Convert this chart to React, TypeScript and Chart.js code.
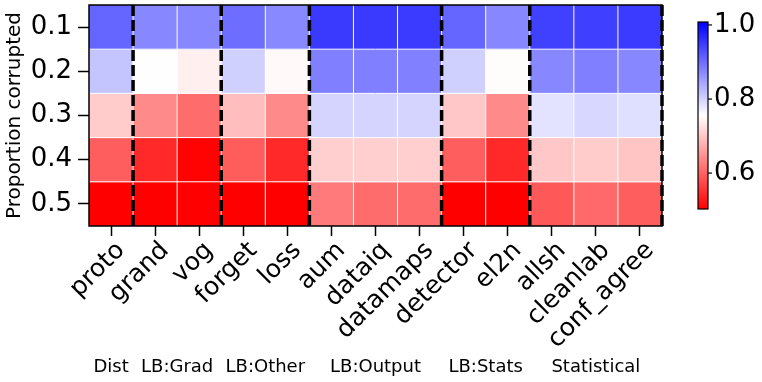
import { useEffect, useRef } from 'react';
import { Chart, registerables } from 'chart.js';

Chart.register(...registerables);

const methods = ['proto', 'grand', 'vog', 'forget', 'loss', 'aum', 'dataiq', 'datamaps', 'detector', 'el2n', 'allsh', 'cleanlab', 'conf_agree'];
const rowLabels = ['0.1', '0.2', '0.3', '0.4', '0.5'];

const row01 = [0.908, 0.874, 0.874, 0.900, 0.872, 0.951, 0.951, 0.950, 0.908, 0.874, 0.945, 0.946, 0.950];
const row02 = [0.814, 0.756, 0.740, 0.802, 0.750, 0.882, 0.882, 0.880, 0.802, 0.753, 0.874, 0.882, 0.874];
const row03 = [0.704, 0.640, 0.610, 0.690, 0.640, 0.798, 0.798, 0.798, 0.700, 0.640, 0.783, 0.795, 0.787];
const row04 = [0.596, 0.544, 0.505, 0.594, 0.544, 0.708, 0.708, 0.708, 0.596, 0.544, 0.700, 0.704, 0.697];
const row05 = [0.500, 0.500, 0.500, 0.500, 0.500, 0.624, 0.610, 0.610, 0.500, 0.500, 0.590, 0.607, 0.596];
const rows = [row01, row02, row03, row04, row05];

const groupNames = ['Dist', 'LB:Grad', 'LB:Other', 'LB:Output', 'LB:Stats', 'Statistical'];
const groupStart = [0, 1, 3, 5, 8, 10];
const groupEnd = [0, 2, 4, 7, 9, 12];

const colorbarTicks = [0.6, 0.8, 1.0];
const vMin = 0.503;
const vMax = 1.008;

function bwrR(v: number): string {
  let t = (v - vMin) / (vMax - vMin);
  t = Math.max(0, Math.min(1, t));
  let r: number, g: number, b: number;
  if (t < 0.5) {
    r = 1; g = 2 * t; b = 2 * t;
  } else {
    r = 2 - 2 * t; g = 2 - 2 * t; b = 1;
  }
  return `rgb(${Math.round(r * 255)},${Math.round(g * 255)},${Math.round(b * 255)})`;
}

const FONT = 'DejaVu Sans';
const TICK_SIZE = 26;

const decorPlugin = {
  id: 'heatDecor',
  afterDatasetsDraw(chart: any) {
    const ctx = chart.ctx as CanvasRenderingContext2D;
    const { left, right, top, bottom } = chart.chartArea;
    const xs = chart.scales.x;
    const ys = chart.scales.y;
    const n = methods.length;
    const colW = (right - left) / n;
    ctx.save();
    // white cell separators
    ctx.strokeStyle = '#ffffff';
    ctx.lineWidth = 1;
    for (let i = 1; i < n; i++) {
      const x = (xs.getPixelForValue(i - 1) + xs.getPixelForValue(i)) / 2;
      ctx.beginPath();
      ctx.moveTo(x, top);
      ctx.lineTo(x, bottom);
      ctx.stroke();
    }
    for (let r = 1; r < rowLabels.length; r++) {
      const y = ys.getPixelForValue(r);
      ctx.beginPath();
      ctx.moveTo(left, y);
      ctx.lineTo(right, y);
      ctx.stroke();
    }
    // frame
    ctx.strokeStyle = '#000';
    ctx.lineWidth = 1.5;
    ctx.setLineDash([]);
    ctx.strokeRect(left, top, right - left, bottom - top);
    // dashed group separators
    ctx.lineWidth = 3.5;
    ctx.setLineDash([11, 4]);
    for (let g = 0; g < groupEnd.length; g++) {
      const x = xs.getPixelForValue(groupEnd[g]) + colW / 2;
      ctx.beginPath();
      ctx.moveTo(x, top);
      ctx.lineTo(x, bottom);
      ctx.stroke();
    }
    ctx.setLineDash([]);
    // group labels
    ctx.fillStyle = '#000';
    ctx.font = `18px "${FONT}"`;
    ctx.textAlign = 'center';
    ctx.textBaseline = 'middle';
    for (let g = 0; g < groupNames.length; g++) {
      const cx = (xs.getPixelForValue(groupStart[g]) + xs.getPixelForValue(groupEnd[g])) / 2;
      ctx.fillText(groupNames[g], cx, 367);
    }
    // colorbar
    const cbL = right + 36;
    const cbR = cbL + 10;
    const cbT = top + 17;
    const cbB = bottom - 17;
    const grad = ctx.createLinearGradient(0, cbB, 0, cbT);
    grad.addColorStop(0, bwrR(vMin));
    grad.addColorStop(0.5, bwrR((vMin + vMax) / 2));
    grad.addColorStop(1, bwrR(vMax));
    ctx.fillStyle = grad;
    ctx.fillRect(cbL, cbT, cbR - cbL, cbB - cbT);
    ctx.strokeStyle = '#000';
    ctx.lineWidth = 1.2;
    ctx.strokeRect(cbL, cbT, cbR - cbL, cbB - cbT);
    ctx.fillStyle = '#000';
    ctx.font = `${TICK_SIZE}px "${FONT}"`;
    ctx.textAlign = 'left';
    ctx.textBaseline = 'middle';
    for (const t of colorbarTicks) {
      const y = cbB - ((t - vMin) / (vMax - vMin)) * (cbB - cbT);
      ctx.beginPath();
      ctx.moveTo(cbR, y);
      ctx.lineTo(cbR + 4, y);
      ctx.stroke();
      ctx.fillText(t.toFixed(1), cbR + 6, y);
    }
    ctx.restore();
  },
};

export default function App() {
  const ref = useRef<HTMLCanvasElement>(null);
  useEffect(() => {
    document.body.style.margin = '0';
    Chart.defaults.font.family = FONT;
    const datasets = rows.map((vals, r) => ({
      label: rowLabels[r],
      data: methods.map(() => 1),
      backgroundColor: vals.map(bwrR),
      borderWidth: 0,
      barPercentage: 1,
      categoryPercentage: 1,
    }));
    const chart = new Chart(ref.current!, {
      type: 'bar',
      data: { labels: methods, datasets },
      options: {
        animation: false,
        responsive: false,
        layout: { padding: { top: 5, right: 100, left: 0, bottom: 0 } },
        plugins: { legend: { display: false }, tooltip: { enabled: false } },
        scales: {
          x: {
            type: 'category',
            stacked: true,
            offset: true,
            ticks: { minRotation: 45, maxRotation: 45, autoSkip: false, font: { size: 25 }, color: '#000', padding: 0, labelOffset: 10 },
            grid: { drawOnChartArea: false, tickLength: 10, tickColor: '#000', tickWidth: 1.5, offset: false },
            border: { display: false },
            afterFit: (s: any) => { s.height = 156; s.paddingLeft = 0; s.paddingRight = 0; },
          },
          y: {
            type: 'linear',
            stacked: true,
            min: 0,
            max: 5,
            reverse: true,
            afterBuildTicks: (s: any) => { s.ticks = rowLabels.map((_, i) => ({ value: i + 0.5 })); },
            ticks: { callback: (_v: any, i: number) => rowLabels[i], font: { size: TICK_SIZE }, color: '#000', padding: 6, autoSkip: false },
            grid: { drawOnChartArea: false, tickLength: 11, tickColor: '#000', tickWidth: 1.5 },
            border: { display: false },
            title: { display: true, text: 'Proportion corrupted', font: { size: 20 }, color: '#000', padding: { top: 3, bottom: 0 } },
            afterFit: (s: any) => { s.width = 89; s.paddingTop = 0; s.paddingBottom = 0; },
          },
        },
      },
      plugins: [decorPlugin],
    } as any);
    return () => chart.destroy();
  }, []);
  return <canvas ref={ref} width={762} height={382} style={{ display: 'block' }} />;
}
